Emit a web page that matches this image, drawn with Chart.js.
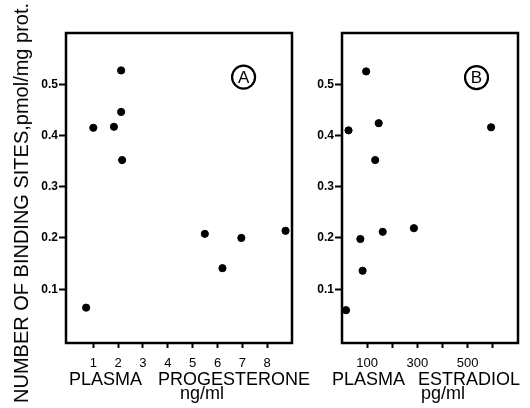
<!DOCTYPE html>
<html>
<head>
<meta charset="utf-8">
<script src="https://cdn.jsdelivr.net/npm/chart.js@4/dist/chart.umd.min.js"></script>
<style>
	body { margin: 0; background: #fff; }
	#wrap { position: relative; width: 530px; height: 408px; overflow: hidden; font-family: "Liberation Sans", Arial, sans-serif; color: #000; }
	canvas { position: absolute; top: 0; }
	.lbl { position: absolute; font-size: 18px; line-height: 18px; white-space: nowrap; }
	#ytitle { position: absolute; left: 21px; top: 203px; font-size: 20px; line-height: 20px; white-space: nowrap;
		transform: translate(-50%, -50%) rotate(-90deg); }
</style>
</head>
<body>
<div id="wrap">
	<canvas id="chartA" width="300" height="408" style="left:0"></canvas>
	<canvas id="chartB" width="230" height="408" style="left:300px"></canvas>
	<div id="ytitle">NUMBER OF BINDING SITES,pmol/mg prot.</div>
	<div class="lbl" style="left:69px;top:370px">PLASMA</div>
	<div class="lbl" style="left:158px;top:370px">PROGESTERONE</div>
	<div class="lbl" style="left:202px;top:384px;transform:translateX(-50%)">ng/ml</div>
	<div class="lbl" style="left:332px;top:370px">PLASMA</div>
	<div class="lbl" style="left:418px;top:370px">ESTRADIOL</div>
	<div class="lbl" style="left:443px;top:384px;transform:translateX(-50%)">pg/ml</div>
</div>
<script>
// panel A : plasma progesterone (ng/ml)
const progX = [0.71, 1.0, 1.83, 2.12, 2.12, 2.16, 5.49, 6.2, 6.96, 8.74];
const progY = [0.064, 0.415, 0.417, 0.527, 0.446, 0.352, 0.208, 0.141, 0.200, 0.214];
// panel B : plasma estradiol (pg/ml)
const estrX = [16, 26, 73, 82, 96, 132, 146, 162, 286, 593];
const estrY = [0.059, 0.410, 0.198, 0.136, 0.525, 0.352, 0.424, 0.212, 0.219, 0.416];

const yTicks = [0.1, 0.2, 0.3, 0.4, 0.5];
const progTicks = [1, 2, 3, 4, 5, 6, 7, 8];
const estrTicks = [100, 200, 300, 400, 500, 600];
const estrTickLabels = [100, 300, 500];

const FONT = '"Liberation Sans", Arial, sans-serif';

function toPoints(xs, ys){
	return xs.map((x, i) => ({x: x, y: ys[i]}));
}

// box round the plot area + circled panel letter
const frame = {
	id: 'frame',
	afterDraw(chart, args, opts){
		const a = chart.chartArea;
		const c = chart.ctx;
		c.save();
		c.strokeStyle = '#000';
		c.lineWidth = 2.5;
		c.strokeRect(a.left, a.top, a.right - a.left, a.bottom - a.top);
		const px = chart.scales.x.getPixelForValue(opts.at[0]);
		const py = chart.scales.y.getPixelForValue(opts.at[1]);
		c.lineWidth = 2.2;
		c.beginPath();
		c.arc(px, py, 11.5, 0, Math.PI * 2);
		c.stroke();
		c.fillStyle = '#000';
		c.font = '17px ' + FONT;
		c.textAlign = 'center';
		c.textBaseline = 'middle';
		c.fillText(opts.letter, px, py + 1);
		c.restore();
	}
};

function makeChart(id, xs, ys, xMin, xMax, xTicks, xLabel, yWidth, rightPad, letter, at){
	return new Chart(document.getElementById(id).getContext('2d'), {
		type: 'scatter',
		data: {
			datasets: [{
				data: toPoints(xs, ys),
				backgroundColor: '#000',
				borderColor: '#000',
				pointRadius: 3.6,
				pointHoverRadius: 3.6
			}]
		},
		plugins: [frame],
		options: {
			responsive: false,
			animation: false,
			layout: { padding: { top: 33, right: rightPad, left: 0, bottom: 0 } },
			plugins: {
				legend: { display: false },
				tooltip: { enabled: false },
				frame: { letter: letter, at: at }
			},
			scales: {
				x: {
					type: 'linear',
					min: xMin,
					max: xMax,
					afterBuildTicks: s => { s.ticks = xTicks.map(v => ({value: v})); },
					afterFit: s => { s.height = 65; },
					border: { display: false },
					grid: { drawOnChartArea: false, drawTicks: true, tickLength: 5, tickWidth: 2, color: '#000' },
					ticks: {
						color: '#000',
						padding: 8,
						maxRotation: 0,
						autoSkip: false,
						font: { family: FONT, size: 13 },
						callback: xLabel
					}
				},
				y: {
					min: -0.005,
					max: 0.6,
					afterBuildTicks: s => { s.ticks = yTicks.map(v => ({value: v})); },
					afterFit: s => { s.width = yWidth; },
					border: { display: false },
					grid: { drawOnChartArea: false, drawTicks: true, tickLength: 7, tickWidth: 2, color: '#000' },
					ticks: {
						color: '#000',
						padding: 1,
						font: { family: FONT, size: 12, weight: 'bold' },
						callback: v => v.toFixed(1)
					}
				}
			}
		}
	});
}

const chartA = makeChart('chartA', progX, progY, -0.1, 9, progTicks,
	v => String(v), 66, 8, 'A', [7.05, 0.514]);
const chartB = makeChart('chartB', estrX, estrY, 0, 700, estrTicks,
	v => estrTickLabels.includes(v) ? String(v) : '', 42, 12, 'B', [535, 0.513]);
</script>
</body>
</html>
